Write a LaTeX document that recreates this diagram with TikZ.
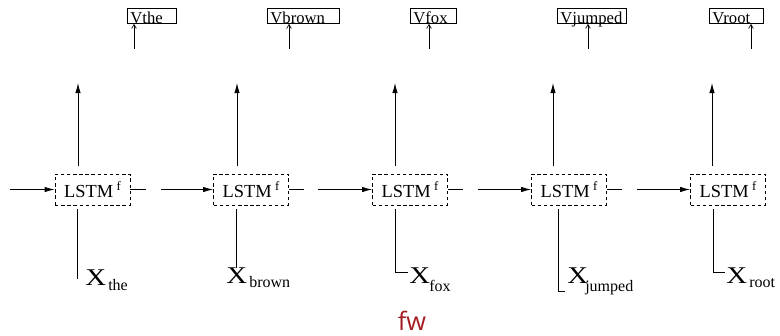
\documentclass[tikz,border=0pt]{standalone}
\usepackage{fontspec}
\setmainfont{Liberation Serif}
\newfontfamily\capsans{Open Sans}
\usetikzlibrary{arrows.meta}
\definecolor{fwred}{RGB}{165,28,32}
\begin{document}
% one unit = one pixel of the 780 x 335 canvas, y grows downwards
\begin{tikzpicture}[x=0.75pt,y=-0.75pt,
  wire/.style={line width=0.6pt},
  flow/.style={wire,-{Latex[length=7.5pt,width=4pt]}},
  thin arrow/.style={line width=0.5pt,-{Straight Barb[length=3pt,width=3.5pt]}},
  cell/.style={draw,line width=0.6pt,dash pattern=on 2.6pt off 2pt,
    minimum width=56.25pt,minimum height=23.25pt,inner sep=0pt,
    font=\fontsize{13.8}{14}\selectfont},
  outbox/.style={draw,line width=0.6pt,anchor=north west,inner xsep=2.25pt,
    inner ysep=0pt,text height=11.25pt,text depth=0pt,align=left,
    font=\fontsize{12.5}{12.5}\selectfont},
  xlab/.style={anchor=base west,inner sep=0pt,font=\fontsize{18}{18}\selectfont},
  sublab/.style={anchor=base west,inner sep=0pt,font=\fontsize{12}{12}\selectfont}]
\useasboundingbox (0,0) rectangle (780,335);

\newcommand{\lstmtext}{LSTM\hspace{2.5pt}\raisebox{5.2pt}{\fontsize{9.5}{9.5}\selectfont f}}
\newcommand{\bigX}{\scalebox{1.2}[1]{X}}

% LSTM cells
\node[cell] (L1) at (92.5,189.5) {\lstmtext};
\node[cell] (L2) at (251,189.5) {\lstmtext};
\node[cell] (L3) at (410,189.5) {\lstmtext};
\node[cell] (L4) at (569,189.5) {\lstmtext};
\node[cell] (L5) at (728,189.5) {\lstmtext};

% output vectors
\node[outbox,text width={(49-6)*0.75pt}] (V1) at (127,8) {Vthe};
\node[outbox,text width={(72-6)*0.75pt}] (V2) at (267,8) {Vbrown};
\node[outbox,text width={(46-6)*0.75pt}] (V3) at (410,8) {Vfox};
\node[outbox,text width={(69-6)*0.75pt}] (V4) at (557,8) {Vjumped};
\node[outbox,text width={(54-6)*0.75pt}] (V5) at (709,8) {Vroot};

% input words
\node[xlab] (X1) at (85,285) {\bigX};   \node[sublab] (S1) at (108,290) {the};
\node[xlab] (X2) at (226,283) {\bigX};  \node[sublab] (S2) at (249,287) {brown};
\node[xlab] (X3) at (409,283) {\bigX};  \node[sublab] (S3) at (429,291) {fox};
\node[xlab] (X4) at (567,283) {\bigX};  \node[sublab] (S4) at (585,291) {jumped};
\node[xlab] (X5) at (726,283) {\bigX};  \node[sublab] (S5) at (749,287) {root};

% recurrent connections
\coordinate (h0) at (10,189.5);
\coordinate (h1a) at (146,189.5); \coordinate (h1b) at (161,189.5);
\coordinate (h2a) at (304,189.5); \coordinate (h2b) at (318,189.5);
\coordinate (h3a) at (463,189.5); \coordinate (h3b) at (478,189.5);
\coordinate (h4a) at (622,189.5); \coordinate (h4b) at (637,189.5);
\draw[flow] (h0) -- (L1.west);
\draw[wire] (L1.east) -- (h1a);  \draw[flow] (h1b) -- (L2.west);
\draw[wire] (L2.east) -- (h2a);  \draw[flow] (h2b) -- (L3.west);
\draw[wire] (L3.east) -- (h3a);  \draw[flow] (h3b) -- (L4.west);
\draw[wire] (L4.east) -- (h4a);  \draw[flow] (h4b) -- (L5.west);

% outputs of the cells
\foreach \i/\x in {1/78,2/237,3/395,4/553,5/712}{
  \coordinate (u\i) at (\x,166);
  \coordinate (t\i) at (\x,83);
  \draw[flow] (u\i) -- (t\i);
}

% projections into the output vectors
\foreach \i/\x in {1/134,2/289,3/429,4/588,5/751}{
  \coordinate (p\i) at (\x,49);
  \draw[thin arrow] (p\i) -- (p\i |- V\i.south);
}

% inputs of the cells
\coordinate (d1) at (77,209);  \coordinate (e1) at (77,279);
\coordinate (d2) at (236,209); \coordinate (e2) at (236,268);
\coordinate (d3) at (395,209); \coordinate (e3) at (395,272); \coordinate (f3) at (408,272);
\coordinate (d4) at (558,209); \coordinate (e4) at (558,291); \coordinate (f4) at (565,291);
\coordinate (d5) at (713,209); \coordinate (e5) at (713,272); \coordinate (f5) at (725,272);
\draw[wire] (d1) -- (e1);
\draw[wire] (d2) -- (e2);
\draw[wire] (d3) -- (e3) -- (f3);
\draw[wire] (d4) -- (e4) -- (f4);
\draw[wire] (d5) -- (e5) -- (f5);

% caption
\node[anchor=base,inner sep=0pt,text=fwred,font=\capsans\fontsize{19}{20}\selectfont] (cap) at (412,330) {fw};
\end{tikzpicture}
\end{document}
